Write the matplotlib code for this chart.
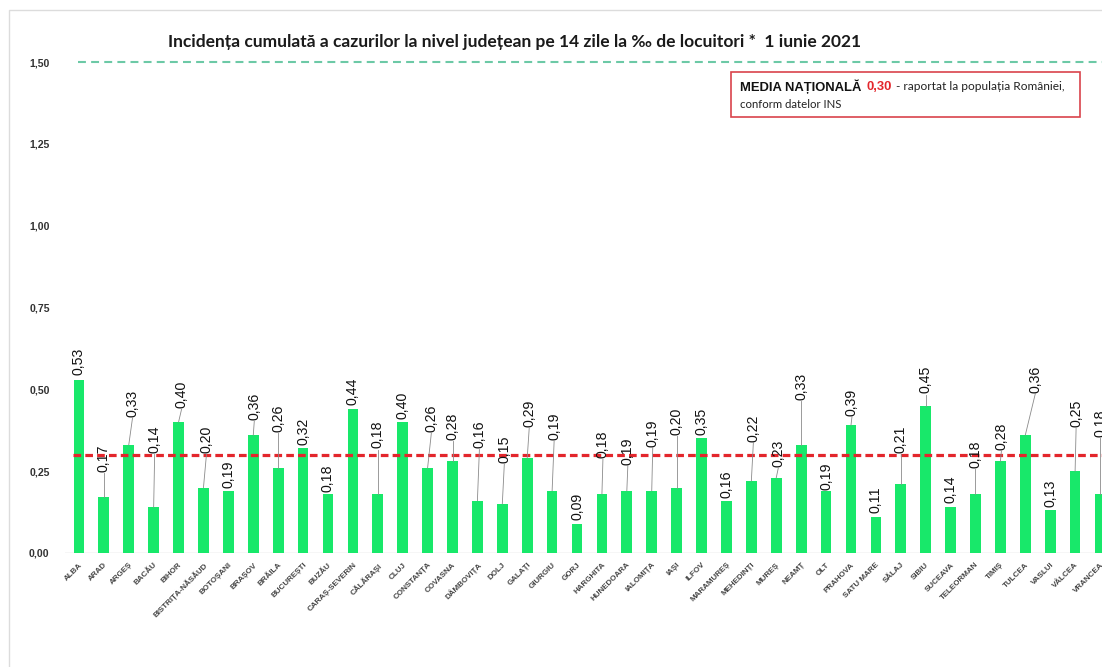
import matplotlib
matplotlib.use("Agg")
import matplotlib.pyplot as plt
from matplotlib.patches import Rectangle

counties = ["ALBA", "ARAD", "ARGEȘ", "BACĂU", "BIHOR", "BISTRIȚA-NĂSĂUD", "BOTOȘANI",
            "BRAȘOV", "BRĂILA", "BUCUREȘTI", "BUZĂU", "CARAȘ-SEVERIN", "CĂLĂRAȘI", "CLUJ",
            "CONSTANȚA", "COVASNA", "DÂMBOVIȚA", "DOLJ", "GALAȚI", "GIURGIU", "GORJ",
            "HARGHITA", "HUNEDOARA", "IALOMIȚA", "IAȘI", "ILFOV", "MARAMUREȘ", "MEHEDINȚI",
            "MUREȘ", "NEAMȚ", "OLT", "PRAHOVA", "SATU MARE", "SĂLAJ", "SIBIU", "SUCEAVA",
            "TELEORMAN", "TIMIȘ", "TULCEA", "VASLUI", "VÂLCEA", "VRANCEA"]
incidence = [0.53, 0.17, 0.33, 0.14, 0.40, 0.20, 0.19, 0.36, 0.26, 0.32, 0.18, 0.44,
             0.18, 0.40, 0.26, 0.28, 0.16, 0.15, 0.29, 0.19, 0.09, 0.18, 0.19, 0.19,
             0.20, 0.35, 0.16, 0.22, 0.23, 0.33, 0.19, 0.39, 0.11, 0.21, 0.45, 0.14,
             0.18, 0.28, 0.36, 0.13, 0.25, 0.18]
national_mean = 0.30
upper_ref = 1.50
yticks = [0.0, 0.25, 0.5, 0.75, 1.0, 1.25, 1.5]

# label placement (layout only)
label_y = [0.545, 0.247, 0.416, 0.305, 0.443, 0.305, 0.20, 0.406, 0.37, 0.33, 0.185,
           0.452, 0.32, 0.41, 0.37, 0.345, 0.32, 0.275, 0.385, 0.345, 0.10, 0.29,
           0.27, 0.325, 0.36, 0.36, 0.168, 0.34, 0.263, 0.467, 0.193, 0.42, 0.122,
           0.305, 0.488, 0.153, 0.26, 0.315, 0.49, 0.14, 0.385, 0.355]
label_dx = [0, 0, 0.15, 0.04, 0.12, 0.12, 0, 0.04, 0, 0, 0, 0, 0, 0,
            0.15, 0, 0.08, 0.08, 0.08, 0.08, 0, 0.04, 0.04, 0.04, 0, 0, 0, 0.08,
            0.08, 0, 0, 0.04, 0, 0, 0, 0, 0, 0.04, 0.4, 0, 0.04, 0]

W, H = 1102, 667
fig = plt.figure(figsize=(W / 100, H / 100), dpi=100)
fig.patch.set_facecolor("white")

# faint outer frame
fig.add_artist(Rectangle((9 / W, -0.1), 1.2, 1 - 10 / H + 0.1, transform=fig.transFigure,
                         fill=False, edgecolor="#dcdcdc", lw=1.0))

ax = fig.add_axes([65 / W, 1 - 553 / H, 1 - 65 / W, (553 - 62) / H])
x = list(range(len(counties)))
ax.bar(x, incidence, width=0.43, color="#18e86a", zorder=2)

ax.set_xlim(-0.56, 41.08)
ax.set_ylim(0, 1.5)
for s in ax.spines.values():
    s.set_visible(False)
ax.axhline(0, color="#d4d4d4", lw=1.0, zorder=1)

ax.set_yticks(yticks)
ax.set_yticklabels([f"{v:.2f}".replace(".", ",") for v in yticks],
                   fontsize=7.6, fontweight="bold", color="#333333",
                   family=["Liberation Sans"])
ax.tick_params(axis="y", length=0, pad=11)
ax.set_xticks(x)
ax.set_xticklabels(counties, rotation=45, ha="right", rotation_mode="anchor",
                   fontsize=5.8, fontweight="bold", color="#444444",
                   family=["Liberation Sans"])
ax.tick_params(axis="x", length=0, pad=6)

# national mean line
ax.plot([-0.25, 42], [national_mean, national_mean], color="#e3262c", lw=2.3,
        dashes=(2.4, 1.3), zorder=3, clip_on=False)
# upper reference line
ax.plot([-0.05, 42], [upper_ref, upper_ref], color="#6cc9a6", lw=1.5,
        dashes=(3.8, 2.5), zorder=3, clip_on=False)

for i, (v, ly, dx) in enumerate(zip(incidence, label_y, label_dx)):
    txt = f"{v:.2f}".replace(".", ",")
    if ly - v > 0.025:
        ax.plot([i, i + dx], [v, ly - 0.004], color="#8a8a8a", lw=0.6, zorder=4)
    ax.text(i + dx, ly, txt, rotation=90, ha="center", va="bottom",
            fontsize=10.2, color="#111111", family=["Liberation Sans"], zorder=5)

fig.text(515 / W, 1 - 42 / H,
         "Incidența cumulată a cazurilor la nivel județean pe 14 zile la ‰ de locuitori *  1 iunie 2021",
         ha="center", va="center", fontsize=12.5, fontweight="bold", color="#1a1a1a",
         family=["Lato", "DejaVu Sans"])

# annotation box
fig.add_artist(Rectangle((731 / W, 1 - 117 / H), (1080 - 731) / W, 45 / H,
                         transform=fig.transFigure, fill=False, edgecolor="#d9434b", lw=1.2))
renderer = fig.canvas.get_renderer()
parts = [("MEDIA NAȚIONALĂ", dict(fontsize=9.4, fontweight="bold", color="#111111",
                                   family=["Liberation Sans"]), 5),
         ("0,30", dict(fontsize=9.4, fontweight="bold", color="#e3262c",
                       family=["Liberation Sans"]), 4),
         ("- raportat la populația României,", dict(fontsize=8.6, color="#222222",
                                                    family=["Lato", "DejaVu Sans"]), 0)]
xpos = 740
for s, kw, gap in parts:
    t = fig.text(xpos / W, 1 - 87 / H, s, ha="left", va="center", **kw)
    bb = t.get_window_extent(renderer=renderer)
    xpos = bb.x1 + gap
fig.text(740 / W, 1 - 105 / H, "conform datelor INS", ha="left", va="center",
         fontsize=8.2, color="#222222", family=["Lato", "DejaVu Sans"])

fig.savefig("out.png", dpi=100, facecolor="white")
